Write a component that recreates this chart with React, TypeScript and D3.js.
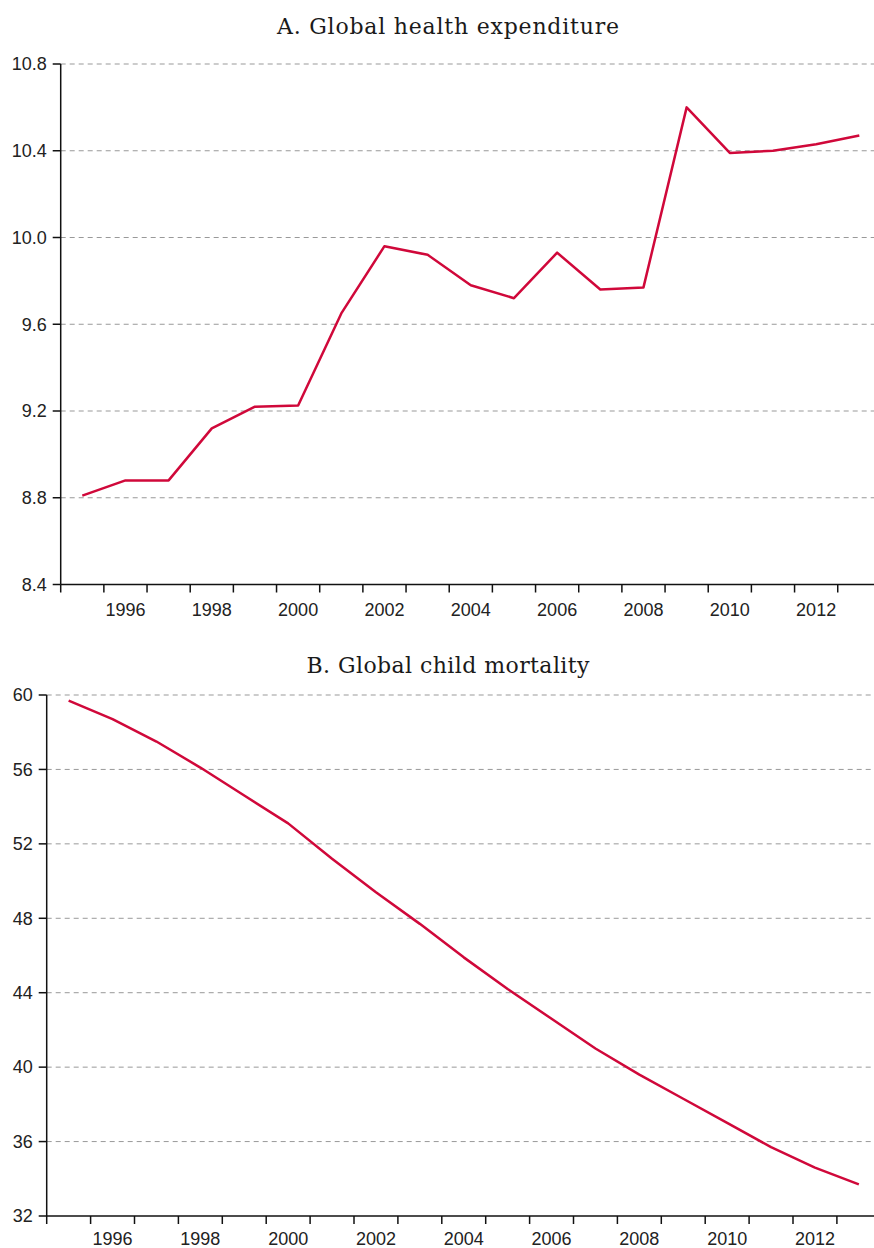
import React from "react";
import * as d3 from "d3";

const years = d3.range(1995, 2014);
const yearLabels = [1996, 1998, 2000, 2002, 2004, 2006, 2008, 2010, 2012];

// Panel A: global health expenditure
const healthTicks = [8.4, 8.8, 9.2, 9.6, 10.0, 10.4, 10.8];
const healthValues = [
  8.81, 8.88, 8.88, 9.12, 9.22, 9.225, 9.65, 9.96, 9.92, 9.78, 9.72, 9.93,
  9.76, 9.77, 10.6, 10.39, 10.4, 10.43, 10.47,
];

// Panel B: global child mortality
const mortalityTicks = [32, 36, 40, 44, 48, 52, 56, 60];
const mortalityValues = [
  59.7, 58.7, 57.5, 56.1, 54.6, 53.1, 51.2, 49.4, 47.7, 45.9, 44.2, 42.6,
  41.0, 39.6, 38.3, 37.0, 35.7, 34.6, 33.7,
];

const RED = "#d0083a";
const LABEL_FONT = "'Liberation Sans', Arial, sans-serif";
const TITLE_FONT = "'DejaVu Serif', serif";

type PanelProps = {
  title: string;
  titleY: number;
  titleWidth: number;
  values: number[];
  ticks: number[];
  fmt: (v: number) => string;
  left: number;
  top: number;
  bottom: number;
  right: number;
  labelY: number;
};

const Panel = ({ title, titleY, titleWidth, values, ticks, fmt, left, top, bottom, right, labelY }: PanelProps) => {
  const x = d3.scaleLinear().domain([1994.5, 2013.5]).range([left, right]);
  const y = d3
    .scaleLinear()
    .domain([ticks[0], ticks[ticks.length - 1]])
    .range([bottom, top]);

  const line = d3
    .line<number>()
    .x((_, i) => x(years[i]))
    .y((d) => y(d));

  // ticks sit on the year boundaries, labels in the middle of the year
  const boundaries = d3.range(1994.5, 2014, 1);

  return (
    <g>
      <text
        x={448}
        y={titleY}
        textAnchor="middle"
        fontFamily={TITLE_FONT}
        fontSize={22}
        textLength={titleWidth}
        lengthAdjust="spacing"
        fill="#1a1a1a"
      >
        {title}
      </text>

      {/* gridlines */}
      {ticks.slice(1).map((t) => (
        <line
          key={"g" + t}
          x1={left}
          x2={874}
          y1={y(t)}
          y2={y(t)}
          stroke="#999"
          strokeWidth={1}
          strokeDasharray="5,4"
        />
      ))}

      {/* y axis */}
      <line x1={left} x2={left} y1={y(ticks[ticks.length - 1])} y2={bottom} stroke="#111" strokeWidth={1.5} />
      {ticks.map((t) => (
        <g key={"y" + t}>
          <line x1={left - 8} x2={left} y1={y(t)} y2={y(t)} stroke="#111" strokeWidth={1.5} />
          <text
            x={left - 14}
            y={y(t)}
            dy="0.35em"
            textAnchor="end"
            fontFamily={LABEL_FONT}
            fontSize={18}
            fill="#222"
          >
            {fmt(t)}
          </text>
        </g>
      ))}

      {/* x axis */}
      <line x1={left} x2={890} y1={bottom} y2={bottom} stroke="#111" strokeWidth={1.5} />
      {boundaries.map((b) => (
        <line key={"x" + b} x1={x(b)} x2={x(b)} y1={bottom} y2={bottom + 8} stroke="#111" strokeWidth={1.5} />
      ))}
      {yearLabels.map((yr) => (
        <text
          key={"l" + yr}
          x={x(yr)}
          y={labelY}
          textAnchor="middle"
          fontFamily={LABEL_FONT}
          fontSize={18}
          fill="#222"
        >
          {yr}
        </text>
      ))}

      <path d={line(values) ?? ""} fill="none" stroke={RED} strokeWidth={2.5} strokeLinejoin="round" />
    </g>
  );
};

export default function App() {
  return (
    <svg
      width={874}
      height={1248}
      style={{ position: "absolute", left: 0, top: 0, background: "#fff" }}
    >
      <rect width={874} height={1248} fill="#fff" />
      <Panel
        title="A. Global health expenditure"
        titleY={34}
        titleWidth={342}
        values={healthValues}
        ticks={healthTicks}
        fmt={d3.format(".1f")}
        left={60.7}
        right={880.9}
        top={64}
        bottom={584.5}
        labelY={616}
      />
      <Panel
        title="B. Global child mortality"
        titleY={673}
        titleWidth={283}
        values={mortalityValues}
        ticks={mortalityTicks}
        fmt={d3.format("d")}
        left={46.7}
        right={880.8}
        top={695}
        bottom={1216}
        labelY={1245}
      />
    </svg>
  );
}
